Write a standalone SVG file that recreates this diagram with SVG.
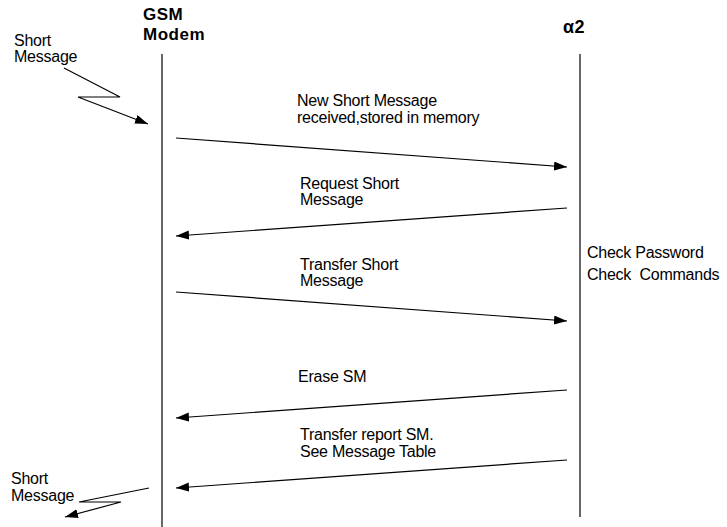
<svg xmlns="http://www.w3.org/2000/svg" width="727" height="527" viewBox="0 0 727 527">
<defs>
<style>
.t{font-family:"Liberation Sans",Arial,sans-serif;font-size:16px;fill:#000;letter-spacing:-0.25px}
.h{font-family:"Liberation Sans",Arial,sans-serif;font-size:17px;font-weight:bold;fill:#000;letter-spacing:0.5px}
.l{stroke:#000;stroke-width:1.2;fill:none}
</style>
<marker id="ah" markerUnits="userSpaceOnUse" markerWidth="14" markerHeight="10" refX="13" refY="4.5" orient="auto">
<path d="M0,0 L13,4.5 L0,9 Z" fill="#000"/>
</marker>
</defs>
<rect width="727" height="527" fill="#fff"/>
<g id="gsm">
<text class="h" x="143" y="19.5">GSM</text>
<text class="h" x="143" y="39.5">Modem</text>
<line class="l" x1="162" y1="54" x2="162" y2="527"/>
</g>
<g id="alpha2">
<text class="h" x="563" y="33" style="font-size:18px">α2</text>
<line class="l" x1="580" y1="54" x2="580" y2="517"/>
<text class="t" x="587" y="258">Check Password</text>
<text class="t" x="587" y="280" xml:space="preserve">Check  Commands</text>
</g>
<g id="sm-in">
<text class="t" x="14" y="46">Short</text>
<text class="t" x="14" y="62">Message</text>
</g>
<g id="sm-out">
<text class="t" x="11" y="484">Short</text>
<text class="t" x="11" y="501">Message</text>
</g>
<g id="labels">
<text class="t" x="297" y="106">New Short Message</text>
<text class="t" x="297" y="123">received,stored in memory</text>
<text class="t" x="300" y="189">Request Short</text>
<text class="t" x="300" y="205">Message</text>
<text class="t" x="300" y="270">Transfer Short</text>
<text class="t" x="300" y="286">Message</text>
<text class="t" x="298" y="382">Erase SM</text>
<text class="t" x="300" y="440">Transfer report SM.</text>
<text class="t" x="300" y="457">See Message Table</text>
</g>
<g id="connectors">
<polyline class="l" points="64,68 120,97 78,97 148,124" marker-end="url(#ah)"/>
<line class="l" x1="176" y1="138" x2="567" y2="167" marker-end="url(#ah)"/>
<line class="l" x1="567" y1="208" x2="176" y2="236" marker-end="url(#ah)"/>
<line class="l" x1="176" y1="292" x2="567" y2="321" marker-end="url(#ah)"/>
<line class="l" x1="567" y1="390" x2="176" y2="418" marker-end="url(#ah)"/>
<line class="l" x1="567" y1="460" x2="176" y2="488" marker-end="url(#ah)"/>
<polyline class="l" points="149,488 79,502 121,502 65,517" marker-end="url(#ah)"/>
</g>
</svg>
